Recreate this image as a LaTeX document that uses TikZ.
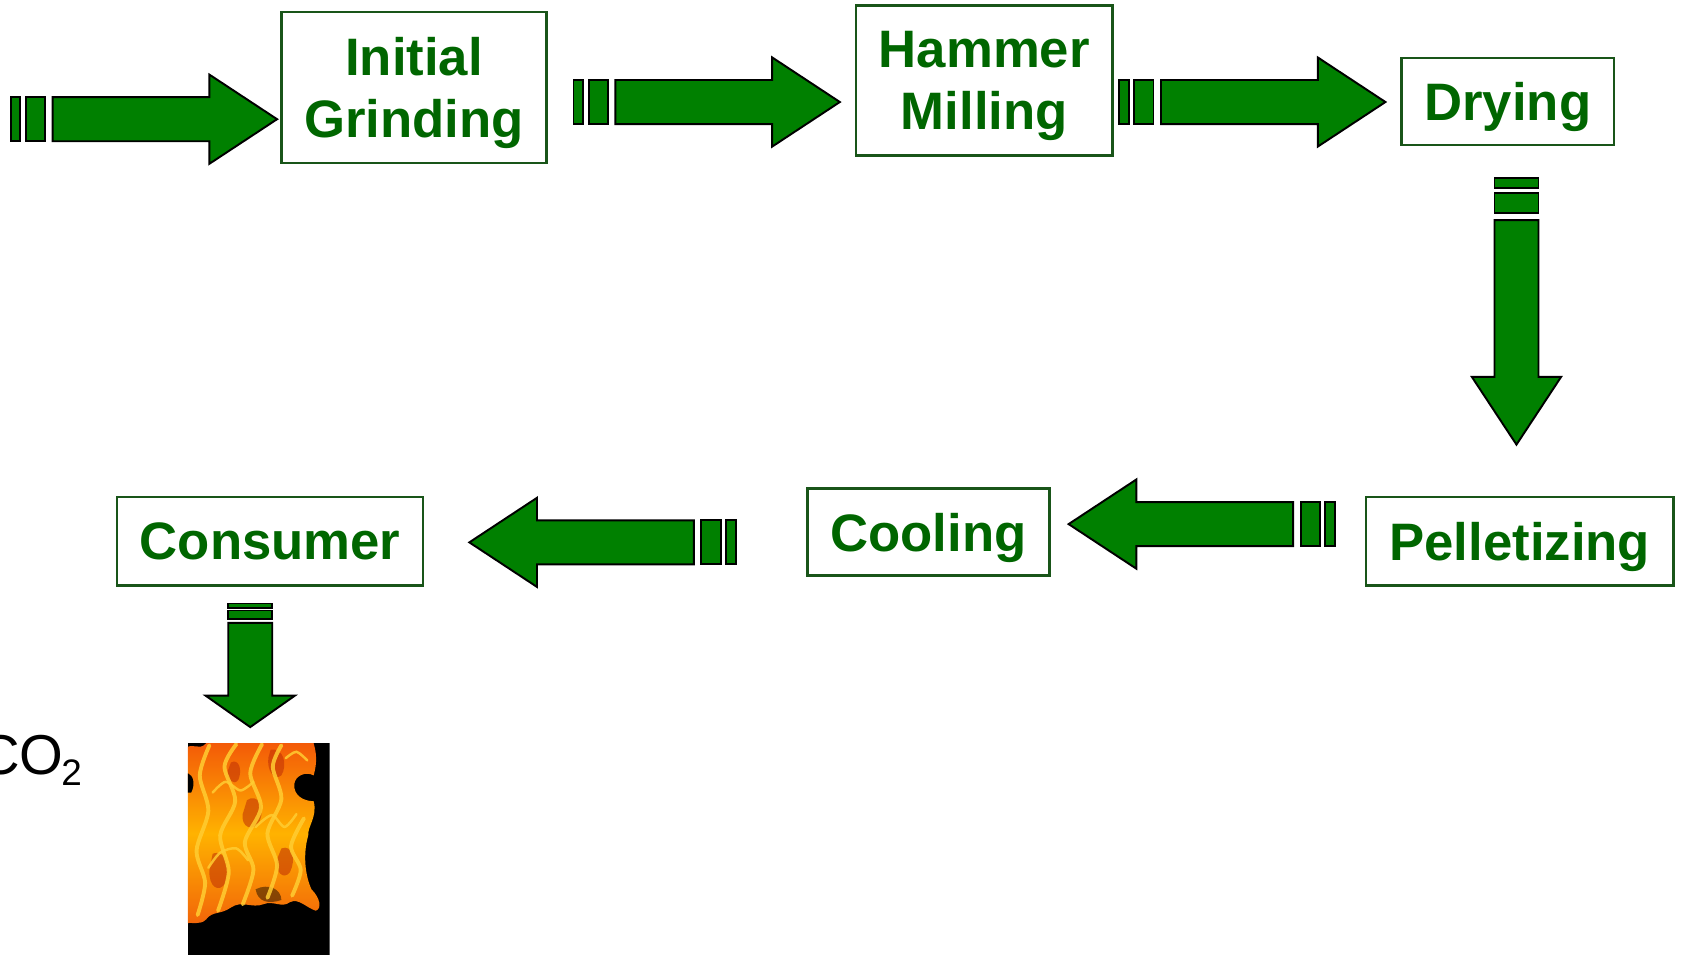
\documentclass[tikz,border=0pt]{standalone}
\usepackage{fontspec}
\setmainfont{Liberation Sans}
\definecolor{txtgreen}{RGB}{0,102,0}
\definecolor{boxgreen}{RGB}{25,85,25}
\definecolor{arrgreen}{RGB}{0,128,0}
\definecolor{flameor}{RGB}{240,110,10}
\definecolor{flamered}{RGB}{190,45,5}
\definecolor{flameyel}{RGB}{255,205,50}
\begin{document}
\begin{tikzpicture}[x=0.01074cm, y=-0.01074cm,
  stepbox/.style={draw=boxgreen, line width=0.7pt, fill=white, text=txtgreen,
    font=\bfseries\fontsize{15}{17.7}\selectfont, align=center, inner sep=0pt,
    text depth=0pt},
  bsize/.style 2 args={minimum width={#1*0.01074cm}, minimum height={#2*0.01074cm}},
  arrbody/.style={fill=arrgreen, draw=black, line width=0.55pt, line join=miter},
  yelstreak/.style={draw=flameyel, line width=1.1pt, opacity=0.85, line cap=round},
  redcurl/.style={fill=flamered, opacity=0.55},
  barrow/.pic={
    \path[arrbody] (-248,-20.5) rectangle (-239,20.5);
    \path[arrbody] (-234,-20.5) rectangle (-216,20.5);
    \path[arrbody] (-209,-20.5) -- (-63,-20.5) -- (-63,-41.5) -- (0,0)
      -- (-63,41.5) -- (-63,20.5) -- (-209,20.5) -- cycle;
  }]
\useasboundingbox (0,0) rectangle (1568,889);

% process boxes
\node[stepbox, bsize={247}{141}] (ig) at (385.5,81.5) {Initial\\Grinding};
\node[stepbox, bsize={239}{140}] (hm) at (916.5,75) {Hammer\\Milling};
\node[stepbox, bsize={198}{81}] (dry) at (1404,94.5) {Drying};
\node[stepbox, bsize={286}{82}] (pel) at (1415,504) {Pelletizing};
\node[stepbox, bsize={225}{81}] (cool) at (864.5,495.5) {Cooling};
\node[stepbox, bsize={285}{82}] (cons) at (251.5,504) {Consumer};

% block arrows
\pic at (258,111) {barrow};
\pic at (782,95) {barrow};
\pic at (1290,95) {barrow};
\pic[rotate=-90] at (1412,414) {barrow};
\pic[rotate=180] at (995,488) {barrow};
\pic[rotate=180] at (437,505) {barrow};
\pic[rotate=-90, xscale=0.464] at (233,677) {barrow};

% CO2 label (cut at the left edge, as in the original)
\node[anchor=base west, inner sep=0pt, font=\fontsize{16}{16}\selectfont] (co2) at (-20,721)
  {CO\kern-0.6pt\raisebox{-3.2pt}{\fontsize{10.5}{10.5}\selectfont 2}};

% flame picture
\begin{scope}
  \clip (175,692) rectangle (307,889);
  \fill[black] (175,692) rectangle (307,889);
  \shade[top color=flameor!80!red, bottom color=flameor!90!red, middle color=orange!60!yellow]
    (170,698) .. controls (180,690) and (185,700) .. (192,692)
    -- (292,692) .. controls (296,705) and (294,715) .. (292,722)
    .. controls (285,718) and (275,722) .. (274,730)
    .. controls (273,740) and (282,746) .. (292,746)
    .. controls (296,760) and (286,770) .. (287,778)
    .. controls (282,795) and (284,815) .. (290,828)
    .. controls (298,836) and (300,846) .. (294,848)
    .. controls (285,845) and (278,836) .. (270,840)
    .. controls (262,846) and (255,838) .. (245,842)
    .. controls (235,846) and (225,838) .. (215,845)
    .. controls (205,852) and (198,848) .. (192,856)
    .. controls (186,862) and (180,858) .. (170,860) -- cycle;
  \fill[black] (175,720) .. controls (180,722) and (182,730) .. (178,738) -- (170,738) -- (170,720) -- cycle;
  % darker curls
  \fill[redcurl] (230,745) .. controls (240,738) and (247,752) .. (242,764)
    .. controls (236,776) and (224,770) .. (226,758) -- cycle;
  \fill[redcurl] (198,795) .. controls (210,790) and (215,808) .. (210,822)
    .. controls (204,832) and (194,826) .. (195,810) -- cycle;
  \fill[redcurl] (252,698) .. controls (264,696) and (268,712) .. (262,722)
    .. controls (255,728) and (248,716) .. (250,705) -- cycle;
  \fill[redcurl] (262,790) .. controls (272,786) and (276,800) .. (270,812)
    .. controls (264,820) and (256,812) .. (258,800) -- cycle;
  \fill[redcurl] (215,710) .. controls (222,706) and (226,716) .. (222,726)
    .. controls (218,732) and (211,726) .. (212,718) -- cycle;
  \fill[black, opacity=0.45] (238,828) .. controls (250,822) and (262,828) .. (262,838)
    .. controls (250,842) and (240,840) .. (238,828) -- cycle;
  % bright yellow tongues
  \draw[yelstreak] plot[smooth] coordinates {(184,852) (191,822) (183,792) (194,755) (186,722) (195,694)};
  \draw[yelstreak] plot[smooth] coordinates {(203,848) (213,812) (205,778) (219,746) (209,714) (220,693)};
  \draw[yelstreak] plot[smooth] coordinates {(226,842) (236,810) (228,784) (243,752) (233,720) (244,693)};
  \draw[yelstreak] plot[smooth] coordinates {(249,836) (258,806) (249,776) (262,744) (254,714) (262,694)};
  \draw[yelstreak] plot[smooth] coordinates {(272,834) (280,810) (271,788) (283,762)};
  \draw[yelstreak, line width=0.7pt] plot[smooth] coordinates {(194,808) (205,794) (220,790) (231,801)};
  \draw[yelstreak, line width=0.7pt] plot[smooth] coordinates {(238,770) (253,759) (265,770) (276,758)};
  \draw[yelstreak, line width=0.7pt] plot[smooth] coordinates {(198,738) (210,728) (224,736) (236,728)};
  \draw[yelstreak, line width=0.7pt] plot[smooth] coordinates {(266,706) (276,700) (286,708)};
\end{scope}
\end{tikzpicture}
\end{document}
